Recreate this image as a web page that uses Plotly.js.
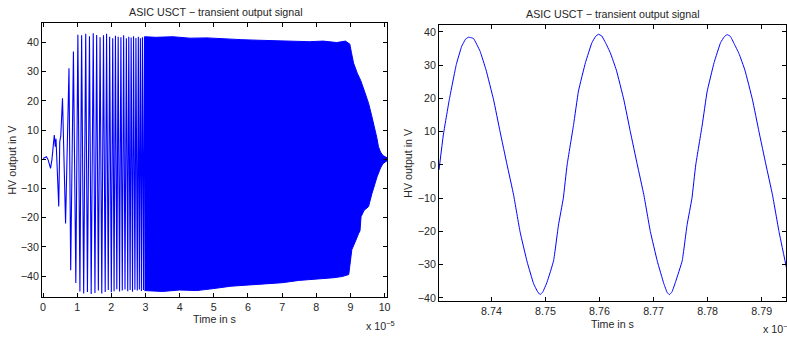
<!DOCTYPE html>
<html>
<head>
<meta charset="utf-8">
<script src="https://cdn.plot.ly/plotly-3.0.1.min.js"></script>
<style>html,body{margin:0;padding:0;background:#fff;}#chart{width:787px;height:338px;}</style>
</head>
<body>
<div id="chart"></div>
<script>
// ---- Left panel: full transient (time in units of 1e-5 s) ----
var earlyTime = [0.00,0.05,0.10,0.15,0.22,0.26,0.33,0.36,0.38,0.46,0.49,0.52,0.57,0.66,0.76,0.81,0.89,0.96,
  1.02,1.08,1.13,1.19,1.25,1.30,1.36,1.41,1.47,1.52,1.57,1.62,1.67,1.72,1.77,1.82,1.86,1.91,1.95,2.00,
  2.04,2.08,2.12,2.16,2.20,2.24,2.28,2.32,2.36,2.40,2.44,2.48,2.51,2.55,2.58,2.62,2.65,2.69,2.72,2.76,
  2.79,2.82,2.85,2.88,2.91,2.94,2.97,3.00];
var earlyVolt = [0.3,0.6,0.9,-0.2,-3.1,-0.2,8.3,4.3,7.0,-16.2,6,8,20.9,-22,31.2,-38,36.9,-42.4,
  42.7,-45.3,42.5,-46,43,-45.5,42.2,-46.2,43.2,-45.8,42.6,-45,41.8,-46,42.5,-45.5,43,-44.8,42,-45.6,
  41.5,-45.2,42.3,-44.5,42,-45.3,41.8,-45,42.5,-44.6,41.5,-45.2,42,-44.8,41.7,-45.4,42.2,-44.7,41.6,-45,
  42,-44.6,41.5,-45.1,41.8,-44.8,42,-45];

var upperTime = [2.97,3.3,3.8,4.3,4.8,5.3,5.8,6.3,6.8,7.3,7.8,8.2,8.6,8.85,8.98,9.03,9.09,9.20,9.30,9.42,9.53,9.62,9.70,9.77,9.82,9.88,9.95,10.02,10.07];
var upperVolt = [42,41.8,42,41.5,41.6,41.2,41,40.8,40.6,40.6,40.3,40.5,40,40.5,39.5,36.5,33,29.5,27,23,19.2,15,11.2,7.5,4.3,2.5,1.3,0.8,0.5];
var lowerTime = [2.97,3.5,4.0,4.5,5.0,5.5,6.0,6.5,7.0,7.5,8.0,8.5,8.75,8.95,9.04,9.15,9.24,9.28,9.31,9.40,9.53,9.63,9.78,9.88,9.95,10.02,10.07];
var lowerVolt = [-45,-45.3,-44.8,-45,-44.3,-43.5,-43,-42.7,-42.3,-41.5,-41,-40.6,-40.2,-39.5,-31,-28,-25.4,-24.5,-19.7,-17.5,-16.2,-11.7,-6,-3,-1.5,-0.8,-0.5];

// ---- Right panel: zoomed segment (time in units of 1e-5 s) ----
var zoomTime = [8.7303,8.7311,8.7322,8.7335,8.7345,8.7352,8.7357,8.7362,8.7367,8.7379,8.7390,8.7404,8.7416,8.7429,
  8.7441,8.7453,8.7466,8.7478,8.7485,8.7490,8.7495,8.7503,8.7515,8.7524,8.7533,8.7540,8.7552,8.7561,8.7574,
  8.7586,8.7593,8.7598,8.7604,8.7611,8.7620,8.7631,8.7645,8.7657,8.7670,8.7682,8.7694,8.7707,8.7719,8.7725,
  8.7729,8.7734,8.7741,8.7753,8.7762,8.7771,8.7778,8.7790,8.7799,8.7812,8.7824,8.7831,8.7836,8.7842,8.7849,
  8.7858,8.7869,8.7883,8.7895,8.7908,8.7920,8.7932,8.7946];
var zoomVolt = [-1.5,9,19.6,30.2,35.7,37.8,38.4,38.3,38.0,34.2,28.6,19.6,10,0,
  -9,-20.1,-29.1,-35.7,-38,-39,-38.2,-35.2,-28.8,-18.1,-10,0,12.1,22.2,30.8,
  36.8,38.7,39.3,38.8,36.8,33.7,28.6,19.6,10,0,-9,-20,-29,-35.7,-38.3,
  -39,-38.2,-35,-28.8,-18,-10,0,12,22,30.8,36.8,38.6,39.2,38.7,36.5,
  33.5,28.5,19.6,10,0,-9,-20,-31];

var leftXTicks = [0,1,2,3,4,5,6,7,8,9,10];
var yTicks = [-40,-30,-20,-10,0,10,20,30,40];
var rightXTicks = [8.74,8.75,8.76,8.77,8.78,8.79];
var titleText = 'ASIC USCT \u2212 transient output signal';

var BLUE = '#0000ff';
var FONT = 'Liberation Sans, Arial, Helvetica, sans-serif';
var TXT = '#262626';
var FS = 10.7;

var envX = upperTime.concat(lowerTime.slice().reverse());
var envY = upperVolt.concat(lowerVolt.slice().reverse());

var traces = [
  {x: earlyTime, y: earlyVolt, type: 'scatter', mode: 'lines', line: {color: BLUE, width: 1.1}, xaxis: 'x', yaxis: 'y', hoverinfo: 'skip', showlegend: false},
  {x: envX, y: envY, type: 'scatter', mode: 'lines', fill: 'toself', fillcolor: BLUE, line: {color: BLUE, width: 1}, xaxis: 'x', yaxis: 'y', hoverinfo: 'skip', showlegend: false},
  {x: zoomTime, y: zoomVolt, type: 'scatter', mode: 'lines', line: {color: BLUE, width: 1, shape: 'spline', smoothing: 0.3}, xaxis: 'x2', yaxis: 'y2', hoverinfo: 'skip', showlegend: false}
];

function axisBase() {
  return {
    showline: true, linecolor: '#000', linewidth: 1, mirror: 'ticks',
    ticks: 'inside', ticklen: 4, tickwidth: 1, tickcolor: '#000',
    showgrid: false, zeroline: false, automargin: false,
    tickfont: {family: FONT, size: FS, color: TXT}
  };
}

var xa = Object.assign(axisBase(), {domain: [42/787, 387/787], range: [-0.03, 10.07], tickvals: leftXTicks, anchor: 'y',
  title: {text: 'Time in s', font: {family: FONT, size: FS, color: TXT}, standoff: 3}});
var ya = Object.assign(axisBase(), {domain: [1-297.3/338, 1-23/338], range: [-47.3, 46.7], tickvals: yTicks, anchor: 'x',
  title: {text: 'HV output in V', font: {family: FONT, size: FS, color: TXT}, standoff: 1}});
var xa2 = Object.assign(axisBase(), {domain: [439/787, 786/787], range: [8.7303, 8.7945], tickvals: rightXTicks, tickformat: '.2f', anchor: 'y2',
  title: {text: 'Time in s', font: {family: FONT, size: FS, color: TXT}, standoff: 4}});
var ya2 = Object.assign(axisBase(), {domain: [1-301.3/338, 1-25.3/338], range: [-41, 42], tickvals: yTicks, anchor: 'x2',
  title: {text: 'HV output in V', font: {family: FONT, size: FS, color: TXT}, standoff: 2}});

var layout = {
  width: 787, height: 338,
  margin: {l: 0, r: 0, t: 0, b: 0},
  paper_bgcolor: '#fff', plot_bgcolor: '#fff',
  showlegend: false,
  font: {family: FONT, size: FS, color: TXT},
  xaxis: xa, yaxis: ya, xaxis2: xa2, yaxis2: ya2,
  annotations: [
    {text: titleText, xref: 'paper', yref: 'paper', x: 216/787, y: 1-12/338, xanchor: 'center', yanchor: 'middle', showarrow: false, font: {family: FONT, size: FS, color: TXT}},
    {text: titleText, xref: 'paper', yref: 'paper', x: 612.5/787, y: 1-14/338, xanchor: 'center', yanchor: 'middle', showarrow: false, font: {family: FONT, size: FS, color: TXT}},
    {text: 'x 10<sup>\u22125</sup>', xref: 'paper', yref: 'paper', x: 364/787, y: 1-325/338, xanchor: 'left', yanchor: 'middle', showarrow: false, font: {family: FONT, size: FS, color: TXT}},
    {text: 'x 10<sup>\u22125</sup>', xref: 'paper', yref: 'paper', x: 761/787, y: 1-328/338, xanchor: 'left', yanchor: 'middle', showarrow: false, font: {family: FONT, size: FS, color: TXT}}
  ]
};

Plotly.newPlot('chart', traces, layout, {staticPlot: true, displayModeBar: false});
</script>
</body>
</html>
